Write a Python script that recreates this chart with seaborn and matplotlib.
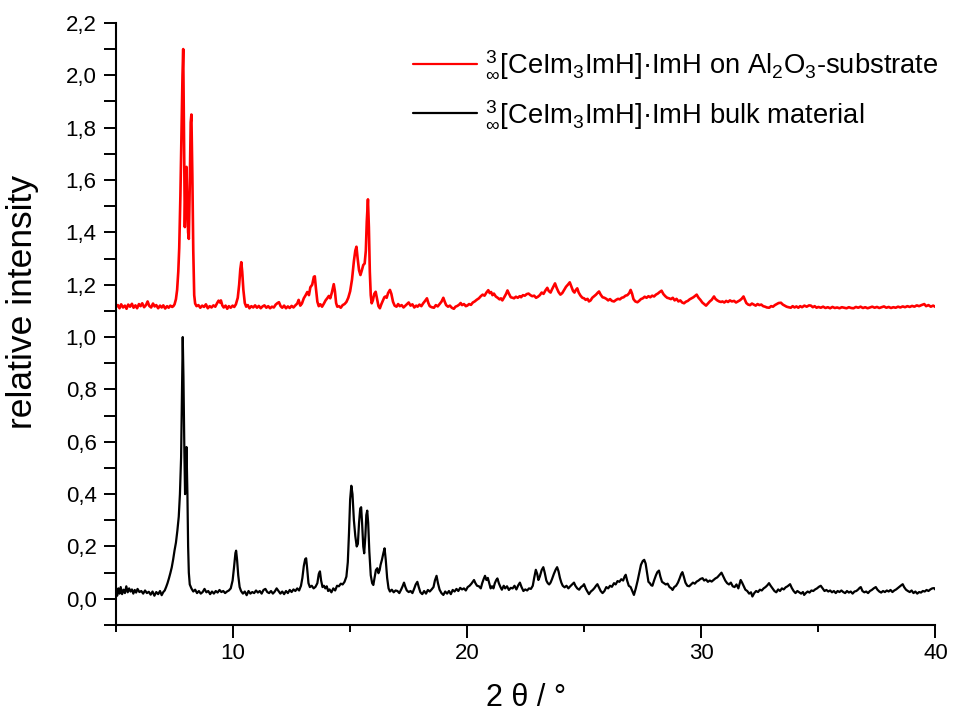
import matplotlib
matplotlib.use("Agg")
import matplotlib.pyplot as plt
from matplotlib.ticker import MultipleLocator, FuncFormatter
import seaborn as sns
import pandas as pd

# Powder pattern on the Al2O3 substrate (offset trace)
substrate_2theta = [
    5.00, 5.08, 5.15, 5.22, 5.30, 5.38, 5.45, 5.52, 5.60, 5.68, 5.75, 5.83, 5.90, 5.98, 6.05, 6.12,
    6.20, 6.28, 6.35, 6.42, 6.50, 6.58, 6.65, 6.72, 6.80, 6.88, 6.95, 7.02, 7.10, 7.18, 7.25, 7.32,
    7.40, 7.45, 7.50, 7.56, 7.61, 7.66, 7.70, 7.75, 7.80, 7.84, 7.87, 7.90, 7.94, 7.97, 8.01, 8.04,
    8.08, 8.11, 8.15, 8.19, 8.22, 8.26, 8.30, 8.34, 8.38, 8.44, 8.52, 8.60, 8.68, 8.76, 8.84, 8.92,
    9.00, 9.08, 9.16, 9.24, 9.32, 9.38, 9.44, 9.48, 9.54, 9.60, 9.68, 9.75, 9.82, 9.90, 9.98, 10.05,
    10.12, 10.20, 10.26, 10.31, 10.35, 10.39, 10.44, 10.50, 10.56, 10.63, 10.70, 10.78, 10.86, 10.94,
    11.02, 11.10, 11.18, 11.26, 11.34, 11.42, 11.50, 11.58, 11.66, 11.74, 11.82, 11.90, 11.96, 12.03,
    12.10, 12.18, 12.26, 12.34, 12.42, 12.50, 12.58, 12.66, 12.74, 12.80, 12.87, 12.94, 13.02, 13.10,
    13.17, 13.24, 13.30, 13.38, 13.45, 13.49, 13.54, 13.60, 13.66, 13.73, 13.80, 13.88, 13.95, 14.02,
    14.09, 14.15, 14.22, 14.30, 14.35, 14.40, 14.45, 14.52, 14.60, 14.68, 14.76, 14.84, 14.92, 15.00,
    15.08, 15.16, 15.22, 15.27, 15.32, 15.38, 15.44, 15.50, 15.56, 15.62, 15.67, 15.71, 15.76, 15.80,
    15.84, 15.88, 15.92, 15.97, 16.03, 16.09, 16.15, 16.21, 16.27, 16.33, 16.40, 16.46, 16.51, 16.56,
    16.62, 16.70, 16.76, 16.83, 16.90, 16.98, 17.05, 17.12, 17.20, 17.28, 17.36, 17.44, 17.50, 17.58,
    17.66, 17.74, 17.82, 17.88, 17.96, 18.04, 18.12, 18.20, 18.28, 18.34, 18.40, 18.48, 18.58, 18.66,
    18.74, 18.82, 18.90, 18.98, 19.04, 19.10, 19.18, 19.26, 19.34, 19.43, 19.50, 19.58, 19.66, 19.72,
    19.78, 19.86, 19.94, 20.00, 20.08, 20.16, 20.24, 20.32, 20.40, 20.50, 20.58, 20.66, 20.74, 20.82,
    20.90, 20.96, 21.02, 21.08, 21.14, 21.22, 21.30, 21.38, 21.44, 21.50, 21.58, 21.66, 21.72, 21.78,
    21.86, 21.94, 22.00, 22.08, 22.16, 22.24, 22.30, 22.38, 22.46, 22.54, 22.62, 22.70, 22.78, 22.86,
    22.94, 23.02, 23.10, 23.18, 23.26, 23.34, 23.42, 23.48, 23.56, 23.62, 23.70, 23.75, 23.82, 23.90,
    23.98, 24.06, 24.14, 24.22, 24.30, 24.38, 24.46, 24.52, 24.58, 24.64, 24.70, 24.76, 24.84, 24.92,
    24.99, 25.06, 25.14, 25.20, 25.27, 25.34, 25.42, 25.50, 25.58, 25.63, 25.70, 25.78, 25.86, 25.94,
    26.02, 26.10, 26.18, 26.27, 26.36, 26.44, 26.52, 26.60, 26.68, 26.76, 26.84, 26.92, 26.98, 27.04,
    27.10, 27.18, 27.27, 27.34, 27.42, 27.50, 27.58, 27.66, 27.74, 27.82, 27.90, 27.98, 28.06, 28.14,
    28.22, 28.30, 28.38, 28.46, 28.54, 28.62, 28.70, 28.78, 28.86, 28.94, 29.02, 29.10, 29.18, 29.26,
    29.34, 29.42, 29.50, 29.58, 29.66, 29.74, 29.80, 29.88, 29.96, 30.04, 30.12, 30.20, 30.28, 30.36,
    30.44, 30.50, 30.54, 30.60, 30.68, 30.76, 30.84, 30.90, 30.98, 31.06, 31.14, 31.22, 31.30, 31.40,
    31.48, 31.56, 31.64, 31.72, 31.80, 31.86, 31.92, 32.00, 32.08, 32.16, 32.24, 32.32, 32.40, 32.48,
    32.56, 32.64, 32.72, 32.80, 32.90, 32.98, 33.06, 33.14, 33.22, 33.30, 33.40, 33.48, 33.56, 33.64,
    33.72, 33.82, 33.90, 33.98, 34.06, 34.14, 34.22, 34.30, 34.40, 34.50, 34.60, 34.68, 34.76, 34.84,
    34.92, 35.00, 35.10, 35.20, 35.30, 35.40, 35.50, 35.60, 35.70, 35.80, 35.90, 36.00, 36.10, 36.20,
    36.30, 36.40, 36.50, 36.60, 36.70, 36.80, 36.90, 37.00, 37.10, 37.20, 37.30, 37.40, 37.50, 37.60,
    37.70, 37.80, 37.90, 38.00, 38.10, 38.20, 38.30, 38.40, 38.50, 38.60, 38.70, 38.80, 38.90, 39.00,
    39.10, 39.20, 39.30, 39.40, 39.52, 39.60, 39.70, 39.80, 39.90, 40.00,
]
substrate_intensity = [
    1.115, 1.122, 1.110, 1.125, 1.113, 1.120, 1.108, 1.124, 1.116, 1.127, 1.112, 1.121, 1.110, 1.126, 1.118, 1.129,
    1.114, 1.122, 1.136, 1.119, 1.113, 1.128, 1.117, 1.122, 1.110, 1.120, 1.113, 1.121, 1.109, 1.118, 1.112, 1.120,
    1.115, 1.118, 1.125, 1.145, 1.180, 1.250, 1.340, 1.540, 1.800, 2.000, 2.100, 1.800, 1.420, 1.560, 1.650, 1.520,
    1.400, 1.375, 1.580, 1.820, 1.850, 1.620, 1.330, 1.160, 1.128, 1.118, 1.122, 1.112, 1.120, 1.115, 1.125, 1.110,
    1.118, 1.113, 1.121, 1.116, 1.130, 1.139, 1.132, 1.140, 1.121, 1.113, 1.120, 1.108, 1.118, 1.112, 1.120, 1.115,
    1.125, 1.150, 1.200, 1.260, 1.286, 1.250, 1.180, 1.130, 1.116, 1.122, 1.110, 1.118, 1.113, 1.121,
    1.112, 1.119, 1.110, 1.117, 1.121, 1.112, 1.118, 1.110, 1.116, 1.113, 1.124, 1.130, 1.133, 1.118,
    1.112, 1.120, 1.110, 1.117, 1.111, 1.119, 1.113, 1.121, 1.128, 1.142, 1.120, 1.128, 1.148, 1.160,
    1.172, 1.160, 1.190, 1.200, 1.230, 1.232, 1.185, 1.135, 1.118, 1.125, 1.116, 1.128, 1.140, 1.148,
    1.157, 1.148, 1.170, 1.202, 1.175, 1.130, 1.116, 1.118, 1.112, 1.122, 1.126, 1.134, 1.150, 1.175,
    1.220, 1.290, 1.330, 1.345, 1.300, 1.255, 1.237, 1.255, 1.275, 1.281, 1.330, 1.440, 1.526, 1.420,
    1.250, 1.160, 1.129, 1.140, 1.165, 1.173, 1.145, 1.118, 1.110, 1.125, 1.140, 1.152, 1.155, 1.150,
    1.168, 1.180, 1.165, 1.135, 1.120, 1.116, 1.126, 1.118, 1.122, 1.113, 1.120, 1.127, 1.132, 1.120,
    1.125, 1.113, 1.120, 1.116, 1.124, 1.118, 1.129, 1.138, 1.148, 1.130, 1.118, 1.114, 1.112, 1.122,
    1.117, 1.126, 1.135, 1.150, 1.135, 1.122, 1.116, 1.120, 1.112, 1.108, 1.116, 1.119, 1.124, 1.130,
    1.122, 1.126, 1.118, 1.120, 1.126, 1.123, 1.132, 1.136, 1.142, 1.148, 1.156, 1.162, 1.158, 1.170,
    1.179, 1.168, 1.172, 1.160, 1.166, 1.155, 1.150, 1.144, 1.148, 1.140, 1.152, 1.165, 1.178, 1.166,
    1.152, 1.150, 1.148, 1.154, 1.150, 1.156, 1.152, 1.160, 1.158, 1.164, 1.166, 1.160, 1.156, 1.158,
    1.150, 1.154, 1.160, 1.170, 1.165, 1.178, 1.188, 1.176, 1.170, 1.182, 1.196, 1.205, 1.188, 1.172,
    1.162, 1.168, 1.180, 1.192, 1.200, 1.209, 1.190, 1.176, 1.170, 1.180, 1.186, 1.170, 1.158, 1.150,
    1.148, 1.142, 1.146, 1.136, 1.140, 1.150, 1.156, 1.162, 1.170, 1.174, 1.162, 1.152, 1.150, 1.146,
    1.140, 1.145, 1.138, 1.136, 1.142, 1.146, 1.144, 1.150, 1.152, 1.158, 1.160, 1.168, 1.180, 1.166,
    1.145, 1.136, 1.133, 1.138, 1.145, 1.148, 1.154, 1.150, 1.156, 1.152, 1.158, 1.155, 1.162, 1.166,
    1.172, 1.177, 1.164, 1.156, 1.150, 1.148, 1.145, 1.150, 1.140, 1.146, 1.136, 1.140, 1.132, 1.129,
    1.135, 1.138, 1.144, 1.148, 1.152, 1.158, 1.162, 1.150, 1.142, 1.132, 1.126, 1.120, 1.128, 1.136,
    1.142, 1.150, 1.155, 1.146, 1.140, 1.136, 1.134, 1.136, 1.132, 1.138, 1.134, 1.140, 1.136, 1.138,
    1.132, 1.136, 1.140, 1.146, 1.155, 1.142, 1.130, 1.124, 1.122, 1.128, 1.124, 1.120, 1.126, 1.122,
    1.124, 1.118, 1.116, 1.113, 1.112, 1.118, 1.116, 1.122, 1.126, 1.130, 1.131, 1.124, 1.120, 1.116,
    1.114, 1.112, 1.118, 1.113, 1.117, 1.112, 1.118, 1.114, 1.120, 1.116, 1.121, 1.120, 1.114, 1.118,
    1.112, 1.115, 1.112, 1.116, 1.111, 1.114, 1.110, 1.115, 1.111, 1.113, 1.110, 1.114, 1.112, 1.110,
    1.114, 1.111, 1.110, 1.115, 1.112, 1.116, 1.111, 1.114, 1.110, 1.113, 1.116, 1.112, 1.115, 1.111,
    1.114, 1.117, 1.112, 1.115, 1.111, 1.114, 1.112, 1.116, 1.113, 1.117, 1.114, 1.118, 1.115, 1.119,
    1.116, 1.121, 1.118, 1.122, 1.126, 1.118, 1.122, 1.116, 1.120, 1.115,
]

# Powder pattern of the bulk material
bulk_2theta = [
    5.00, 5.05, 5.10, 5.15, 5.20, 5.26, 5.32, 5.38, 5.44, 5.50, 5.56, 5.62, 5.68, 5.74, 5.80, 5.86,
    5.92, 6.00, 6.08, 6.16, 6.24, 6.32, 6.40, 6.48, 6.56, 6.64, 6.72, 6.80, 6.88, 6.95, 7.02, 7.08,
    7.14, 7.20, 7.26, 7.32, 7.38, 7.44, 7.50, 7.56, 7.62, 7.68, 7.73, 7.78, 7.82, 7.85, 7.88, 7.92,
    7.95, 7.98, 8.01, 8.05, 8.08, 8.11, 8.15, 8.22, 8.30, 8.38, 8.46, 8.54, 8.62, 8.70, 8.78, 8.86,
    8.94, 9.02, 9.10, 9.18, 9.26, 9.34, 9.42, 9.50, 9.58, 9.66, 9.74, 9.82, 9.90, 9.98, 10.04, 10.10,
    10.13, 10.17, 10.22, 10.28, 10.34, 10.42, 10.50, 10.58, 10.66, 10.74, 10.82, 10.90, 10.98, 11.06,
    11.14, 11.22, 11.30, 11.38, 11.46, 11.54, 11.62, 11.70, 11.78, 11.86, 11.94, 12.02, 12.10, 12.18,
    12.26, 12.34, 12.42, 12.50, 12.58, 12.66, 12.74, 12.82, 12.90, 12.96, 13.02, 13.08, 13.12, 13.16,
    13.22, 13.28, 13.36, 13.44, 13.52, 13.60, 13.66, 13.71, 13.76, 13.82, 13.88, 13.94, 14.00, 14.06,
    14.12, 14.20, 14.28, 14.36, 14.44, 14.52, 14.60, 14.68, 14.76, 14.84, 14.90, 14.95, 15.00, 15.05,
    15.10, 15.16, 15.22, 15.28, 15.33, 15.38, 15.43, 15.47, 15.51, 15.56, 15.60, 15.65, 15.69, 15.73,
    15.77, 15.82, 15.88, 15.94, 15.99, 16.04, 16.10, 16.16, 16.21, 16.26, 16.30, 16.36, 16.42, 16.47,
    16.52, 16.58, 16.64, 16.70, 16.78, 16.86, 16.94, 17.02, 17.10, 17.18, 17.24, 17.30, 17.36, 17.42,
    17.50, 17.58, 17.66, 17.74, 17.80, 17.87, 17.93, 18.00, 18.08, 18.16, 18.24, 18.32, 18.40, 18.48,
    18.56, 18.62, 18.69, 18.75, 18.82, 18.90, 18.98, 19.06, 19.14, 19.22, 19.30, 19.38, 19.46, 19.54,
    19.62, 19.70, 19.78, 19.86, 19.94, 20.02, 20.10, 20.18, 20.24, 20.29, 20.35, 20.42, 20.50, 20.58,
    20.64, 20.70, 20.76, 20.82, 20.88, 20.94, 21.00, 21.06, 21.12, 21.18, 21.24, 21.29, 21.35, 21.42,
    21.48, 21.56, 21.62, 21.70, 21.78, 21.86, 21.94, 22.02, 22.10, 22.18, 22.25, 22.32, 22.40, 22.48,
    22.56, 22.64, 22.72, 22.80, 22.86, 22.93, 22.99, 23.04, 23.10, 23.18, 23.25, 23.31, 23.38, 23.44,
    23.50, 23.56, 23.62, 23.70, 23.78, 23.84, 23.90, 23.96, 24.02, 24.08, 24.16, 24.24, 24.32, 24.40,
    24.48, 24.56, 24.62, 24.70, 24.78, 24.86, 24.94, 24.99, 25.06, 25.12, 25.20, 25.28, 25.36, 25.44,
    25.50, 25.56, 25.62, 25.70, 25.78, 25.86, 25.94, 26.02, 26.10, 26.18, 26.27, 26.34, 26.42, 26.50,
    26.58, 26.66, 26.72, 26.77, 26.83, 26.90, 26.98, 27.05, 27.12, 27.20, 27.28, 27.35, 27.42, 27.50,
    27.56, 27.62, 27.68, 27.74, 27.80, 27.86, 27.91, 27.98, 28.06, 28.12, 28.19, 28.25, 28.32, 28.40,
    28.48, 28.56, 28.64, 28.72, 28.77, 28.84, 28.92, 29.00, 29.08, 29.14, 29.19, 29.25, 29.32, 29.40,
    29.48, 29.56, 29.64, 29.72, 29.80, 29.88, 29.96, 30.05, 30.12, 30.20, 30.28, 30.36, 30.44, 30.52,
    30.60, 30.68, 30.76, 30.86, 30.94, 31.02, 31.10, 31.18, 31.26, 31.34, 31.42, 31.50, 31.58, 31.64,
    31.68, 31.74, 31.80, 31.88, 31.96, 32.04, 32.12, 32.18, 32.26, 32.34, 32.42, 32.50, 32.58, 32.66,
    32.74, 32.82, 32.89, 32.96, 33.04, 33.12, 33.20, 33.28, 33.36, 33.44, 33.52, 33.60, 33.68, 33.79,
    33.86, 33.94, 34.02, 34.10, 34.18, 34.26, 34.34, 34.39, 34.46, 34.54, 34.62, 34.70, 34.78, 34.86,
    34.94, 35.02, 35.10, 35.18, 35.26, 35.34, 35.42, 35.50, 35.58, 35.66, 35.74, 35.82, 35.90, 35.98,
    36.06, 36.14, 36.22, 36.30, 36.38, 36.46, 36.54, 36.62, 36.70, 36.76, 36.81, 36.88, 36.96, 37.04,
    37.12, 37.20, 37.28, 37.36, 37.45, 37.52, 37.60, 37.68, 37.76, 37.84, 37.92, 38.00, 38.08, 38.16,
    38.24, 38.32, 38.40, 38.48, 38.54, 38.60, 38.66, 38.74, 38.82, 38.90, 38.98, 39.06, 39.14, 39.22,
    39.30, 39.38, 39.46, 39.54, 39.62, 39.70, 39.78, 39.86, 39.94, 40.00,
]
bulk_intensity = [
    0.030, 0.012, 0.040, 0.020, 0.045, 0.018, 0.035, 0.022, 0.048, 0.025, 0.040, 0.028, 0.036, 0.020, 0.034, 0.024,
    0.038, 0.026, 0.030, 0.020, 0.032, 0.022, 0.027, 0.016, 0.028, 0.012, 0.026, 0.018, 0.030, 0.014, 0.026, 0.032,
    0.045, 0.060, 0.078, 0.098, 0.120, 0.150, 0.185, 0.215, 0.260, 0.314, 0.400, 0.540, 0.800, 1.000, 0.850, 0.560,
    0.400, 0.470, 0.580, 0.400, 0.200, 0.100, 0.055, 0.040, 0.028, 0.035, 0.022, 0.030, 0.020, 0.026, 0.038, 0.025,
    0.030, 0.018, 0.028, 0.020, 0.030, 0.024, 0.034, 0.026, 0.030, 0.022, 0.028, 0.032, 0.040, 0.070, 0.120, 0.175,
    0.184, 0.150, 0.090, 0.045, 0.030, 0.020, 0.028, 0.014, 0.030, 0.020, 0.026, 0.022, 0.032, 0.024,
    0.030, 0.020, 0.034, 0.038, 0.026, 0.022, 0.030, 0.020, 0.028, 0.040, 0.030, 0.020, 0.028, 0.018,
    0.030, 0.022, 0.034, 0.026, 0.036, 0.030, 0.040, 0.032, 0.050, 0.080, 0.125, 0.152, 0.155, 0.120,
    0.060, 0.045, 0.050, 0.040, 0.046, 0.060, 0.095, 0.105, 0.070, 0.045, 0.050, 0.040, 0.048, 0.030,
    0.036, 0.025, 0.040, 0.032, 0.050, 0.048, 0.058, 0.055, 0.065, 0.085, 0.140, 0.250, 0.380, 0.432,
    0.400, 0.300, 0.240, 0.200, 0.210, 0.290, 0.345, 0.350, 0.290, 0.200, 0.174, 0.240, 0.320, 0.337,
    0.290, 0.180, 0.090, 0.060, 0.053, 0.080, 0.110, 0.117, 0.098, 0.110, 0.130, 0.150, 0.175, 0.193,
    0.150, 0.080, 0.040, 0.028, 0.035, 0.025, 0.032, 0.030, 0.022, 0.036, 0.048, 0.062, 0.045, 0.032,
    0.026, 0.030, 0.022, 0.040, 0.055, 0.065, 0.045, 0.025, 0.018, 0.030, 0.020, 0.034, 0.028, 0.036,
    0.045, 0.070, 0.088, 0.060, 0.035, 0.022, 0.015, 0.028, 0.020, 0.030, 0.018, 0.034, 0.028, 0.038,
    0.030, 0.042, 0.036, 0.040, 0.032, 0.045, 0.050, 0.058, 0.066, 0.072, 0.060, 0.050, 0.048, 0.040,
    0.060, 0.075, 0.088, 0.072, 0.080, 0.060, 0.040, 0.048, 0.040, 0.060, 0.072, 0.078, 0.060, 0.045,
    0.035, 0.050, 0.040, 0.048, 0.034, 0.042, 0.040, 0.050, 0.036, 0.052, 0.062, 0.045, 0.030, 0.036,
    0.032, 0.040, 0.038, 0.050, 0.080, 0.111, 0.095, 0.072, 0.085, 0.110, 0.121, 0.100, 0.070, 0.060,
    0.055, 0.062, 0.075, 0.095, 0.112, 0.121, 0.105, 0.080, 0.062, 0.050, 0.044, 0.050, 0.040, 0.048,
    0.055, 0.062, 0.050, 0.040, 0.035, 0.045, 0.050, 0.056, 0.040, 0.030, 0.018, 0.028, 0.034, 0.042,
    0.050, 0.056, 0.045, 0.030, 0.022, 0.030, 0.045, 0.040, 0.050, 0.046, 0.060, 0.055, 0.068, 0.065,
    0.075, 0.070, 0.085, 0.092, 0.070, 0.050, 0.045, 0.030, 0.015, 0.040, 0.070, 0.100, 0.130, 0.145,
    0.149, 0.135, 0.100, 0.065, 0.060, 0.052, 0.050, 0.070, 0.090, 0.102, 0.108, 0.085, 0.065, 0.060,
    0.055, 0.058, 0.045, 0.040, 0.034, 0.045, 0.050, 0.062, 0.080, 0.095, 0.102, 0.085, 0.062, 0.050,
    0.048, 0.055, 0.062, 0.058, 0.066, 0.070, 0.076, 0.079, 0.070, 0.074, 0.065, 0.070, 0.066, 0.072,
    0.078, 0.082, 0.090, 0.100, 0.085, 0.070, 0.060, 0.055, 0.062, 0.048, 0.045, 0.055, 0.040, 0.060,
    0.072, 0.062, 0.050, 0.035, 0.030, 0.020, 0.025, 0.009, 0.022, 0.030, 0.026, 0.035, 0.032, 0.040,
    0.045, 0.052, 0.060, 0.050, 0.040, 0.030, 0.025, 0.036, 0.030, 0.040, 0.036, 0.044, 0.048, 0.056,
    0.042, 0.030, 0.022, 0.030, 0.025, 0.020, 0.026, 0.015, 0.022, 0.028, 0.024, 0.032, 0.030, 0.036,
    0.040, 0.046, 0.050, 0.040, 0.030, 0.034, 0.028, 0.032, 0.025, 0.030, 0.022, 0.030, 0.026, 0.032,
    0.026, 0.022, 0.030, 0.024, 0.028, 0.020, 0.028, 0.030, 0.036, 0.042, 0.045, 0.030, 0.025, 0.028,
    0.022, 0.030, 0.034, 0.040, 0.045, 0.035, 0.028, 0.024, 0.030, 0.026, 0.032, 0.028, 0.034, 0.026,
    0.032, 0.036, 0.042, 0.048, 0.052, 0.056, 0.045, 0.035, 0.030, 0.026, 0.032, 0.022, 0.028, 0.020,
    0.026, 0.024, 0.030, 0.028, 0.034, 0.030, 0.036, 0.040, 0.041, 0.035,
]

series_labels = [
    r"$^{3}_{\infty}$[CeIm$_{3}$ImH]·ImH on Al$_{2}$O$_{3}$-substrate",
    r"$^{3}_{\infty}$[CeIm$_{3}$ImH]·ImH bulk material",
]
series_colors = ["#ff0000", "#000000"]

sns.set_theme(style="ticks")
plt.rcParams["font.family"] = ["Liberation Sans", "DejaVu Sans"]
plt.rcParams["mathtext.fontset"] = "custom"
plt.rcParams["mathtext.rm"] = "Liberation Sans"
plt.rcParams["mathtext.it"] = "Liberation Sans:italic"
plt.rcParams["mathtext.bf"] = "Liberation Sans:bold"
for key in ("text.color", "axes.labelcolor", "xtick.color", "ytick.color",
            "xtick.labelcolor", "ytick.labelcolor", "axes.edgecolor"):
    plt.rcParams[key] = "black"

substrate = pd.DataFrame({"two_theta": substrate_2theta, "intensity": substrate_intensity})
bulk = pd.DataFrame({"two_theta": bulk_2theta, "intensity": bulk_intensity})

fig = plt.figure(figsize=(9.54, 7.22), dpi=100)
ax = fig.add_axes([0.1216, 0.1343, 0.859, 0.834])

sns.lineplot(data=substrate, x="two_theta", y="intensity", ax=ax, color=series_colors[0],
             lw=1.9, estimator=None, sort=False, label=series_labels[0])
sns.lineplot(data=bulk, x="two_theta", y="intensity", ax=ax, color=series_colors[1],
             lw=1.6, estimator=None, sort=False, label=series_labels[1])

ax.set_xlim(5, 40)
ax.set_ylim(-0.1, 2.2)

ax.xaxis.set_major_locator(MultipleLocator(10))
ax.xaxis.set_minor_locator(MultipleLocator(5))
ax.yaxis.set_major_locator(MultipleLocator(0.2))
ax.yaxis.set_minor_locator(MultipleLocator(0.1))
ax.yaxis.set_major_formatter(FuncFormatter(lambda v, p: f"{v:.1f}".replace(".", ",").replace("-0,0", "0,0")))
ax.xaxis.set_major_formatter(FuncFormatter(lambda v, p: f"{v:.0f}"))
ax.tick_params(axis="both", which="major", direction="out", length=9, width=1.4,
               labelsize=16, colors="black")
ax.tick_params(axis="x", which="major", pad=4)
ax.tick_params(axis="y", which="major", pad=5)
ax.tick_params(axis="x", which="minor", direction="out", length=5, width=1.4, colors="black")
ax.tick_params(axis="y", which="minor", direction="out", length=9, width=1.4, colors="black")

for side in ("top", "right"):
    ax.spines[side].set_visible(False)
for side in ("left", "bottom"):
    ax.spines[side].set_linewidth(1.5)
    ax.spines[side].set_color("black")

ax.set_xlabel("2 θ / °", fontsize=22, color="black")
ax.xaxis.set_label_coords(0.5, -0.097)
ax.set_ylabel("relative intensity", fontsize=25.5, color="black")
ax.yaxis.set_label_coords(-0.094, 0.536)

leg = ax.legend(loc="upper left", bbox_to_anchor=(413 / 954, 1 - 49 / 722),
                bbox_transform=fig.transFigure, frameon=False, fontsize=19.7,
                handlelength=2.34, handletextpad=0.3, labelspacing=0.62,
                borderpad=0, borderaxespad=0)
for line in leg.get_lines():
    line.set_linewidth(1.6)
for txt in leg.get_texts():
    txt.set_color("black")

fig.savefig("out.png", dpi=100)
